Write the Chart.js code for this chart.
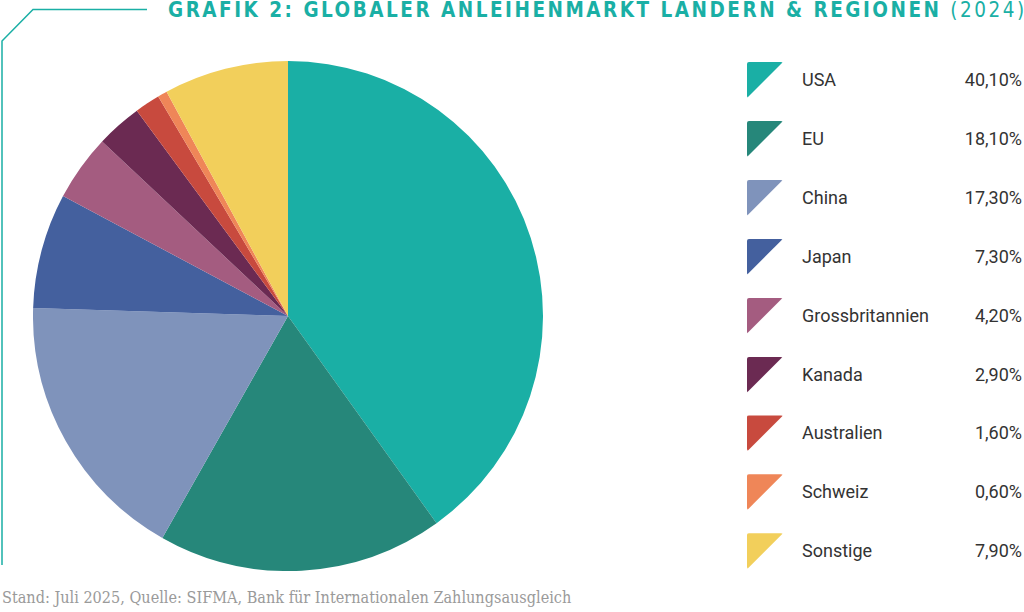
<!DOCTYPE html>
<html>
<head>
<meta charset="utf-8">
<script src="https://cdn.jsdelivr.net/npm/chart.js@4"></script>
<style>
  html, body { margin: 0; padding: 0; background: #fff; }
  body { width: 1024px; height: 612px; position: relative; overflow: hidden; }
  #deco { position: absolute; left: 0; top: 0; }
  #title { position: absolute; left: 168px; top: -3px; font-family: "DejaVu Sans Condensed", "DejaVu Sans"; font-stretch: condensed; font-weight: bold; font-size: 20.5px; letter-spacing: 2.5px; color: #1aafa5; white-space: nowrap; line-height: 26px; }
  #title span { font-weight: normal; }
  #chartBox { position: absolute; left: 33px; top: 61px; width: 510px; height: 510px; }
  .row { position: absolute; left: 747px; width: 275px; height: 36px; }
  .tri { position: absolute; left: 0; top: 0; width: 36px; height: 36px; clip-path: polygon(0 0, 100% 0, 0 100%); border-radius: 2px; }
  .lab { position: absolute; left: 55px; top: 0; line-height: 36px; font-family: Roboto, "Noto Sans"; font-size: 18px; color: #333; }
  .val { position: absolute; right: 0; top: 0; line-height: 36px; font-family: Roboto, "Noto Sans"; font-size: 18px; color: #333; }
  #foot { position: absolute; left: 2px; top: 587px; font-family: "DejaVu Serif Condensed", "DejaVu Serif"; font-stretch: condensed; font-size: 16.1px; color: #9a9a9a; white-space: nowrap; line-height: 22px; }
</style>
</head>
<body>
<svg id="deco" width="1024" height="612">
  <polyline points="147,9.5 33,9.5 2,41 2,565" fill="none" stroke="#1aafa5" stroke-width="1.5"/>
</svg>
<div id="title">GRAFIK 2: GLOBALER ANLEIHENMARKT LANDERN &amp; REGIONEN <span>(2024)</span></div>
<div id="chartBox"><canvas id="c"></canvas></div>
<div id="legend"></div>
<div id="foot">Stand: Juli 2025, Quelle: SIFMA, Bank für Internationalen Zahlungsausgleich</div>
<script>
const categories = ["USA", "EU", "China", "Japan", "Grossbritannien", "Kanada", "Australien", "Schweiz", "Sonstige"];
const shares = [40.1, 18.1, 17.3, 7.3, 4.2, 2.9, 1.6, 0.6, 7.9];
const valueLabels = ["40,10%", "18,10%", "17,30%", "7,30%", "4,20%", "2,90%", "1,60%", "0,60%", "7,90%"];
const colors = ["#1aafa5", "#26877a", "#7f93bb", "#44609e", "#a45c80", "#6b2a52", "#c84a3e", "#ef8658", "#f2cf5b"];

const legend = document.getElementById('legend');
categories.forEach((name, i) => {
  const row = document.createElement('div');
  row.className = 'row';
  row.style.top = (62 + i * 58.9) + 'px';
  row.innerHTML = '<div class="tri" style="background:' + colors[i] + '"></div>' +
    '<div class="lab">' + name + '</div><div class="val">' + valueLabels[i] + '</div>';
  legend.appendChild(row);
});

new Chart(document.getElementById('c'), {
  type: 'pie',
  data: {
    labels: categories,
    datasets: [{ data: shares, backgroundColor: colors, borderWidth: 0, hoverOffset: 0 }]
  },
  options: {
    responsive: true,
    maintainAspectRatio: false,
    animation: false,
    layout: { padding: 0 },
    plugins: { legend: { display: false }, tooltip: { enabled: false }, title: { display: false } }
  }
});
</script>
</body>
</html>
